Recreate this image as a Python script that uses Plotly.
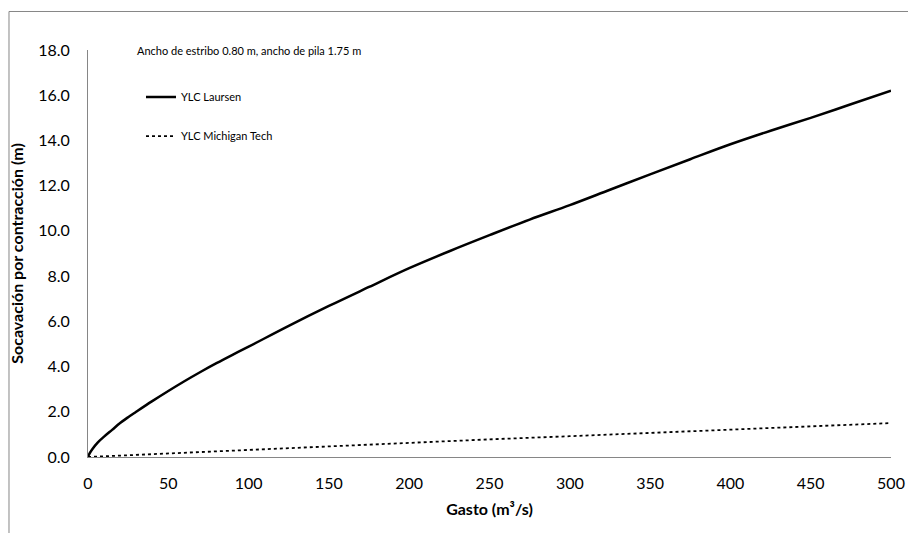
import plotly.graph_objects as go

gasto_laursen = [0, 1, 3, 6, 10, 15, 20, 25, 30, 40, 50, 60, 70, 80, 90, 100,
                 125, 150, 175, 200, 225, 250, 275, 300, 325, 350, 375, 400,
                 425, 450, 475, 500]
ylc_laursen = [0.0, 0.16, 0.38, 0.64, 0.9, 1.2, 1.5, 1.76, 2.0, 2.47, 2.92, 3.35,
               3.76, 4.15, 4.52, 4.88, 5.8, 6.68, 7.52, 8.35, 9.1, 9.81, 10.5,
               11.14, 11.82, 12.5, 13.17, 13.83, 14.43, 15.0, 15.6, 16.2]

gasto_michigan = [0, 50, 100, 150, 200, 250, 300, 350, 400, 450, 500]
ylc_michigan = [0.0, 0.16, 0.32, 0.48, 0.63, 0.78, 0.92, 1.06, 1.21, 1.35, 1.5]

x_ticks = [0, 50, 100, 150, 200, 250, 300, 350, 400, 450, 500]
y_ticks = [0, 2, 4, 6, 8, 10, 12, 14, 16, 18]

FONT = "Lato"
AXIS_GRAY = "#868686"

fig = go.Figure()
fig.add_trace(go.Scatter(x=gasto_laursen, y=ylc_laursen, mode="lines",
                         name="YLC Laursen", legendgroup="a",
                         line=dict(color="black", width=2.5, shape="spline", smoothing=1)))
fig.add_trace(go.Scatter(x=gasto_michigan, y=ylc_michigan, mode="lines",
                         name="YLC Michigan Tech", legendgroup="b",
                         line=dict(color="black", width=1.8, dash="dot")))

fig.update_layout(
    width=908, height=533,
    margin=dict(l=88, r=17, t=50, b=76),
    paper_bgcolor="white", plot_bgcolor="white",
    font=dict(family=FONT, color="black", size=16),
    showlegend=True,
    legend=dict(x=0.066, y=0.92, xanchor="left", yanchor="top",
                bgcolor="rgba(0,0,0,0)", font=dict(size=11, family=FONT),
                itemwidth=30, tracegroupgap=20),
    xaxis=dict(range=[0, 500], tickvals=x_ticks, showgrid=False, zeroline=False,
               showline=True, linecolor=AXIS_GRAY, linewidth=1, ticks="",
               automargin=False,
               ticklabelstandoff=12, tickfont=dict(size=16),
               title=dict(text="<b>Gasto (m³/s)</b>", font=dict(size=16), standoff=12)),
    yaxis=dict(range=[0, 18], tickvals=y_ticks, tickformat=".1f", showgrid=False,
               zeroline=False, showline=True, linecolor=AXIS_GRAY, linewidth=1,
               ticks="", automargin=False, ticklabelstandoff=14, tickfont=dict(size=16),
               title=dict(text="<b>Socavación por contracción (m)</b>",
                          font=dict(size=16), standoff=10)),
    annotations=[dict(text="Ancho de estribo 0.80 m, ancho de pila 1.75 m",
                      xref="paper", yref="paper", x=0.058, y=1.0,
                      xanchor="left", yanchor="middle", showarrow=False,
                      font=dict(size=11, family=FONT))],
    shapes=[dict(type="rect", xref="paper", yref="paper",
                 x0=-0.0984, x1=1.2, y0=-0.4, y1=1.0946,
                 line=dict(color=AXIS_GRAY, width=1), fillcolor="rgba(0,0,0,0)",
                 layer="below")],
)

fig.write_html("out.html", config={"displayModeBar": False},
               post_script="document.body.style.margin='0';")
